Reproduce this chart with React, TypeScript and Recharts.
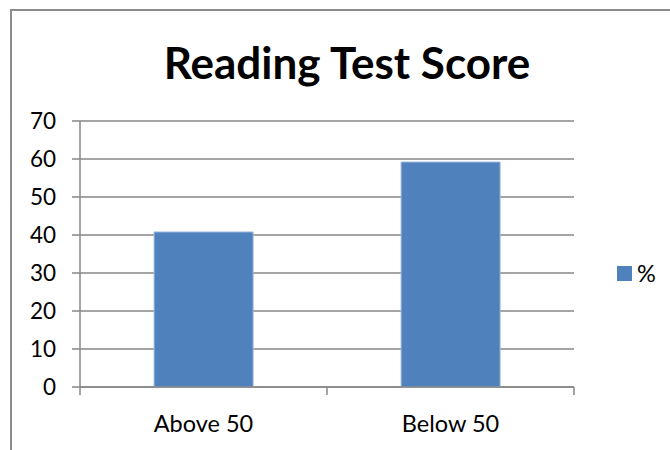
import React from 'react';
import { BarChart, Bar, XAxis, YAxis, CartesianGrid } from 'recharts';

const categories = ['Above 50', 'Below 50'];
const percentValues = [40.8, 59.2];
const yTicks = [0, 10, 20, 30, 40, 50, 60, 70];
const seriesName = '%';

const data = categories.map((name, i) => ({ name, pct: percentValues[i] }));

const FONT = 'Lato, "Open Sans", sans-serif';
const GRID = '#878787';
const BAR = '#4F81BD';

// Excel-style category axis: ticks sit on the band edges, label in the middle
const CategoryTick = (props: any) => {
    const { x, y, payload, width, visibleTicksCount, index } = props;
    const half = width / visibleTicksCount / 2;
    return (
        <g>
            <line x1={x - half} y1={y} x2={x - half} y2={y + 8} stroke={GRID} strokeWidth={1.5} />
            {index === visibleTicksCount - 1 && (
                <line x1={x + half} y1={y} x2={x + half} y2={y + 8} stroke={GRID} strokeWidth={1.5} />
            )}
            <text x={x} y={y + 45} textAnchor="middle" fill="#000" fontSize={23.5} fontFamily={FONT}>
                {payload.value}
            </text>
        </g>
    );
};

const App: React.FC = () => {
    return (
        <div style={{ position: 'absolute', left: 0, top: 0, width: 670, height: 450, overflow: 'hidden', background: '#fff' }}>
            <div
                style={{
                    position: 'absolute',
                    left: 10,
                    top: 9,
                    width: 720,
                    height: 500,
                    border: '2px solid #8c8c8c',
                }}
            />
            <div
                style={{
                    position: 'absolute',
                    left: 0,
                    width: 694,
                    top: 38,
                    textAlign: 'center',
                    fontFamily: FONT,
                    fontWeight: 'bold',
                    fontSize: 44,
                    lineHeight: '48px',
                    color: '#000',
                }}
            >
                Reading Test Score
            </div>
            <BarChart
                width={670}
                height={450}
                data={data}
                margin={{ top: 121, right: 96, bottom: 0, left: 0 }}
                barCategoryGap="30%"
                style={{ position: 'absolute', left: 0, top: 0 }}
            >
                <CartesianGrid vertical={false} stroke={GRID} strokeWidth={1.5} />
                <YAxis
                    width={80}
                    domain={[0, 70]}
                    ticks={yTicks}
                    interval={0}
                    tickSize={8}
                    tickMargin={16}
                    axisLine={{ stroke: GRID, strokeWidth: 1.5 }}
                    tickLine={{ stroke: GRID, strokeWidth: 1.5 }}
                    tick={{ fill: '#000', fontSize: 22.5, fontFamily: FONT }}
                />
                <XAxis
                    dataKey="name"
                    height={63}
                    tickSize={0}
                    tickMargin={0}
                    tickLine={false}
                    axisLine={{ stroke: GRID, strokeWidth: 1.5 }}
                    tick={<CategoryTick />}
                    interval={0}
                />
                <Bar dataKey="pct" name={seriesName} fill={BAR} stroke="#9DB9DC" strokeWidth={1} isAnimationActive={false} />
            </BarChart>
            <div
                style={{
                    position: 'absolute',
                    left: 617,
                    top: 259,
                    display: 'flex',
                    alignItems: 'center',
                    fontFamily: FONT,
                    fontSize: 23.5,
                    color: '#000',
                }}
            >
                <span style={{ display: 'inline-block', width: 15, height: 15, background: BAR, marginRight: 5 }} />
                <span>{seriesName}</span>
            </div>
        </div>
    );
};

export default App;
